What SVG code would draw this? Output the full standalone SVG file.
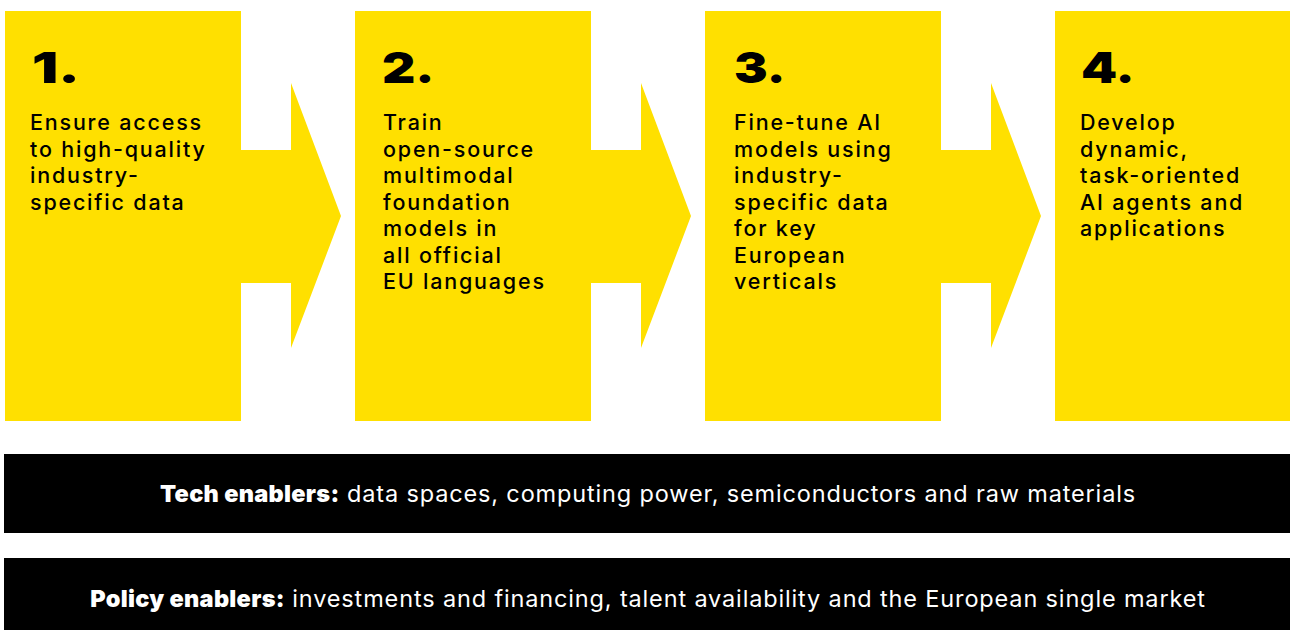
<svg xmlns="http://www.w3.org/2000/svg" width="1290" height="630" viewBox="0 0 1290 630">
  <defs>
    <style>
      .step { fill: #FFE000; }
      .num { font-family: "Inter", "DejaVu Sans", sans-serif; font-weight: 900; font-size: 43px; fill: #000; }
      .body { font-family: "Inter", "Liberation Sans", sans-serif; font-weight: 500; font-size: 21.5px; letter-spacing: 1.8px; fill: #000; }
      .bar { fill: #000; }
      .barText { font-family: "Inter", "Liberation Sans", sans-serif; font-size: 23.5px; letter-spacing: 0.85px; fill: #fff; }
      .barText .lead { font-weight: 900; letter-spacing: 0.3px; }
    </style>
    <!-- arrow connector: stub plus head -->
    <path id="arrowShape" d="M0,0 H50 V-67 L100,66 L50,198 V133 H0 Z"/>
  </defs>
  <rect width="1290" height="630" fill="#fff"/>

  <g id="connectors" class="step">
    <use href="#arrowShape" x="241" y="150"/>
    <use href="#arrowShape" x="591" y="150"/>
    <use href="#arrowShape" x="941" y="150"/>
  </g>

  <g id="step1">
    <rect class="step" x="5" y="11" width="236" height="410"/>
    <text class="num" transform="translate(32,83) scale(1.35,1)">1.</text>
    <text class="body" x="30" y="130">
      <tspan x="30">Ensure access</tspan>
      <tspan x="30" dy="26.5">to high-quality</tspan>
      <tspan x="30" dy="26.5">industry-</tspan>
      <tspan x="30" dy="26.5">specific data</tspan>
    </text>
  </g>

  <g id="step2">
    <rect class="step" x="355" y="11" width="236" height="410"/>
    <text class="num" transform="translate(382,83) scale(1.2,1)">2.</text>
    <text class="body" x="383" y="130">
      <tspan x="383">Train</tspan>
      <tspan x="383" dy="26.5">open-source</tspan>
      <tspan x="383" dy="26.5">multimodal</tspan>
      <tspan x="383" dy="26.5">foundation</tspan>
      <tspan x="383" dy="26.5">models in</tspan>
      <tspan x="383" dy="26.5">all official</tspan>
      <tspan x="383" dy="26.5">EU languages</tspan>
    </text>
  </g>

  <g id="step3">
    <rect class="step" x="705" y="11" width="236" height="410"/>
    <text class="num" transform="translate(734,83) scale(1.17,1)">3.</text>
    <text class="body" x="734" y="130">
      <tspan x="734">Fine-tune AI</tspan>
      <tspan x="734" dy="26.5">models using</tspan>
      <tspan x="734" dy="26.5">industry-</tspan>
      <tspan x="734" dy="26.5">specific data</tspan>
      <tspan x="734" dy="26.5">for key</tspan>
      <tspan x="734" dy="26.5">European</tspan>
      <tspan x="734" dy="26.5">verticals</tspan>
    </text>
  </g>

  <g id="step4">
    <rect class="step" x="1055" y="11" width="236" height="410"/>
    <text class="num" transform="translate(1081,83) scale(1.2,1)">4.</text>
    <text class="body" x="1080" y="130">
      <tspan x="1080">Develop</tspan>
      <tspan x="1080" dy="26.5">dynamic,</tspan>
      <tspan x="1080" dy="26.5">task-oriented</tspan>
      <tspan x="1080" dy="26.5">AI agents and</tspan>
      <tspan x="1080" dy="26.5">applications</tspan>
    </text>
  </g>

  <g id="techEnablers">
    <rect class="bar" x="4" y="454" width="1286" height="79"/>
    <text class="barText" x="648" y="502" text-anchor="middle"><tspan class="lead">Tech enablers:</tspan> data spaces, computing power, semiconductors and raw materials</text>
  </g>

  <g id="policyEnablers">
    <rect class="bar" x="4" y="558" width="1286" height="72"/>
    <text class="barText" x="648" y="607" text-anchor="middle"><tspan class="lead">Policy enablers:</tspan> investments and financing, talent availability and the European single market</text>
  </g>
</svg>
